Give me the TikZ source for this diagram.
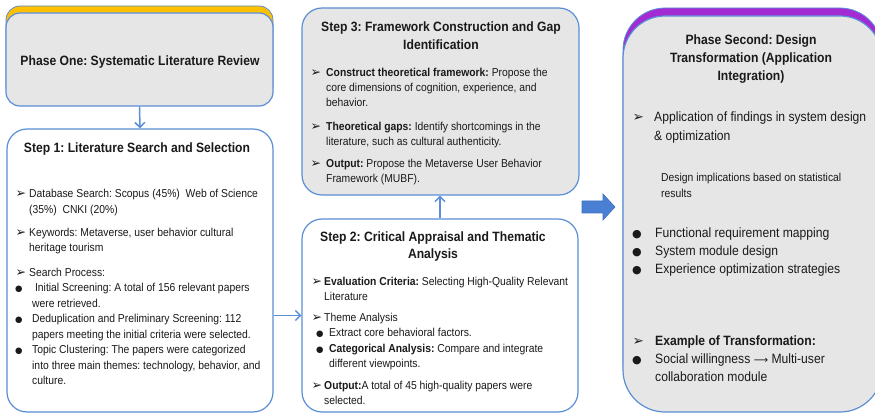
\documentclass[tikz,border=0pt]{standalone}
\usepackage{fontspec}
\setmainfont{Liberation Sans}[FakeStretch=0.9]
\newfontfamily\dejavu{DejaVu Sans}
\usetikzlibrary{arrows.meta}
\frenchspacing
\definecolor{bordc}{HTML}{5A8ED6}
\definecolor{arrowc}{HTML}{5B8ED8}
\definecolor{blockc}{HTML}{4A80D4}
\definecolor{blockb}{HTML}{3F6FBF}
\definecolor{grayc}{HTML}{E6E6E6}
\definecolor{goldc}{HTML}{FFC000}
\definecolor{purplec}{HTML}{A22BD4}
\definecolor{textc}{HTML}{1A1A1A}
\newcommand\lft[2]{\vtop{\baselineskip=#1\halign{##\hfil\cr#2\crcr}}}
\newcommand\cent[2]{\vtop{\baselineskip=#1\halign{\hfil##\hfil\cr#2\crcr}}}
\newcommand\mka[2]{\makebox[#1][l]{\hspace{0.5pt}{\dejavu\fontsize{#2}{#2}\selectfont ➢}}}
\newcommand\mkb[2]{\makebox[#1][l]{{\dejavu\fontsize{#2}{#2}\selectfont ●}}}
\tikzset{
  box/.style={draw=bordc, line width=1.2pt, rounded corners=18pt, inner sep=0pt},
  backbox/.style={draw=bordc, line width=0.8pt, inner sep=0pt},
  ttl/.style={anchor=base, inner sep=0pt, text=textc, font=\fontsize{13.5}{18}\selectfont\bfseries},
  body/.style={anchor=base west, inner sep=0pt, text=textc, font=\fontsize{11.5}{15.5}\selectfont},
  bigbody/.style={anchor=base west, inner sep=0pt, text=textc, font=\fontsize{13.5}{18}\selectfont},
  conn/.style={draw=arrowc, line width=1.5pt, -{Straight Barb[length=5pt,width=10pt,line width=1.5pt]}},
}
\begin{document}
\begin{tikzpicture}[x=1pt,y=-1pt]
\useasboundingbox (0,0) rectangle (875,414);
\clip (0,0) rectangle (875,414);

% ---------- Phase One ----------
\node[backbox, fill=goldc, rounded corners=14pt, minimum width=267, minimum height=94] (p1back) at (139.5,53) {};
\node[box, fill=grayc, rounded corners=14pt, minimum width=267, minimum height=93] (p1) at (139.5,59.5) {};
\node[ttl] (p1t) at (140,66) {Phase One: Systematic Literature Review};

% ---------- Step 1 ----------
\node[box, fill=white, rounded corners=20pt, minimum width=266, minimum height=283] (s1) at (140,270.5) {};
\node[ttl] (s1t) at (137,153) {Step 1: Literature Search and Selection};
\node[body] (s1b) at (15,198) {\lft{15.5pt}{%
\mka{14pt}{12.5}Database Search: Scopus (45\%)\ \ Web of Science\cr
\hspace*{14pt}(35\%)\ \ CNKI (20\%)\cr
\noalign{\vskip7.5pt}
\mka{14pt}{12.5}Keywords: Metaverse, user behavior cultural\cr
\hspace*{14pt}heritage tourism\cr
\noalign{\vskip8.5pt}
\mka{14pt}{12.5}Search Process:\cr
\mkb{17pt}{8.5}\ Initial Screening: A total of 156 relevant papers\cr
\hspace*{17pt}were retrieved.\cr
\mkb{17pt}{8.5}Deduplication and Preliminary Screening: 112\cr
\hspace*{17pt}papers meeting the initial criteria were selected.\cr
\mkb{17pt}{8.5}Topic Clustering: The papers were categorized\cr
\hspace*{17pt}into three main themes: technology, behavior, and\cr
\hspace*{17pt}culture.}};

% ---------- Step 3 ----------
\node[box, fill=grayc, rounded corners=20pt, minimum width=277, minimum height=187] (s3) at (440.5,101.5) {};
\node[ttl] (s3t) at (441,32) {\cent{18pt}{Step 3: Framework Construction and Gap\cr Identification}};
\node[body] (s3b) at (310,77) {\lft{15pt}{%
\mka{16pt}{12.5}\textbf{Construct theoretical framework:} Propose the\cr
\hspace*{16pt}core dimensions of cognition, experience, and\cr
\hspace*{16pt}behavior.\cr
\noalign{\vskip9pt}
\mka{16pt}{12.5}\textbf{Theoretical gaps:} Identify shortcomings in the\cr
\hspace*{16pt}literature, such as cultural authenticity.\cr
\noalign{\vskip6.5pt}
\mka{16pt}{12.5}\textbf{Output:} Propose the Metaverse User Behavior\cr
\hspace*{16pt}Framework (MUBF).}};

% ---------- Step 2 ----------
\node[box, fill=white, rounded corners=20pt, minimum width=276, minimum height=193] (s2) at (440,315.5) {};
\node[ttl] (s2t) at (433,241) {\cent{17pt}{Step 2: Critical Appraisal and Thematic\cr Analysis}};
\node[body] (s2b) at (311,285) {\lft{15.3pt}{%
\mka{13pt}{12.5}\textbf{Evaluation Criteria:} Selecting High-Quality Relevant\cr
\hspace*{13pt}Literature\cr
\noalign{\vskip6pt}
\mka{13pt}{12.5}Theme Analysis\cr
\hspace*{5pt}\mkb{13pt}{8.5}Extract core behavioral factors.\cr
\hspace*{5pt}\mkb{13pt}{8.5}\textbf{Categorical Analysis:} Compare and integrate\cr
\hspace*{18pt}different viewpoints.\cr
\noalign{\vskip6.5pt}
\mka{13pt}{12.5}\textbf{Output:}A total of 45 high-quality papers were\cr
\hspace*{13pt}selected.}};

% ---------- Phase Second ----------
\node[backbox, fill=purplec, rounded corners=42pt, minimum width=259, minimum height=396] (p2back) at (752.5,206) {};
\node[box, fill=grayc, rounded corners=42pt, minimum width=259, minimum height=396] (p2) at (752.5,214) {};
\node[ttl] (p2t) at (751,45) {\cent{18pt}{Phase Second: Design\cr Transformation (Application\cr Integration)}};
\node[bigbody] (appl) at (632,122) {\lft{18.5pt}{%
\mka{22pt}{13.5}Application of findings in system design\cr
\hspace*{22pt}\& optimization}};
\node[body] (impl) at (661,182) {\lft{16pt}{Design implications based on statistical\cr results}};
\node[bigbody] (funcs) at (632,237) {\lft{18pt}{%
\mkb{23pt}{11}Functional requirement mapping\cr
\mkb{23pt}{11}System module design\cr
\mkb{23pt}{11}Experience optimization strategies}};
\node[bigbody] (example) at (632,345) {\lft{18pt}{%
\mka{23pt}{13.5}\textbf{Example of Transformation:}\cr
\mkb{23pt}{11}Social willingness {\dejavu\fontsize{10}{10}\selectfont ⟶} Multi-user\cr
\hspace*{23pt}collaboration module}};

% ---------- connectors ----------
\draw[conn] (p1.south) -- (s1.north);
\draw[conn] (s1.east |- s2.center) -- (s2.west);
\draw[conn] (s2.north) -- (s2.north |- s3.south);
\fill[blockc, draw=blockb, line width=0.6pt]
  (582,201) -- (603,201) -- (603,194) -- (615,207) -- (603,220) -- (603,213) -- (582,213) -- cycle;
\end{tikzpicture}
\end{document}
